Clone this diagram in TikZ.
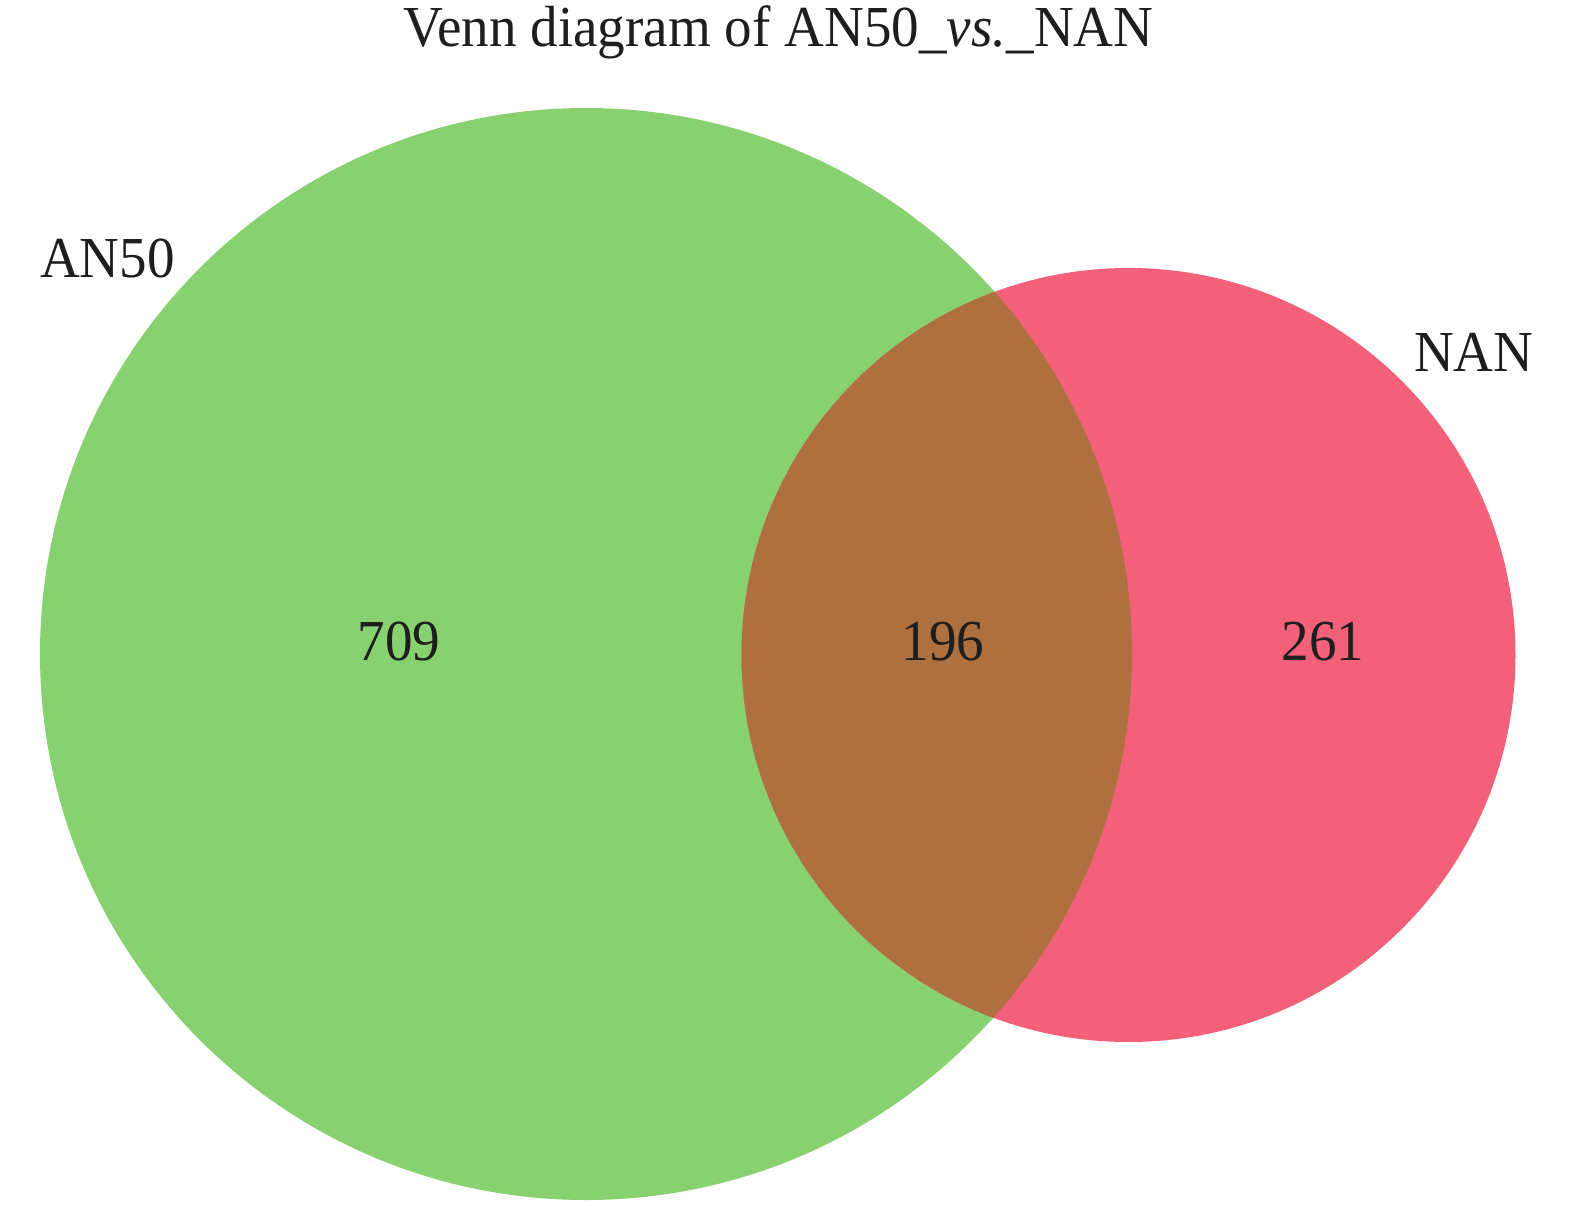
\documentclass[tikz,border=0pt]{standalone}
\usepackage{fontspec}
\setmainfont{Liberation Serif}
\definecolor{vgreen}{HTML}{87D170}
\definecolor{vred}{HTML}{F3607A}
\definecolor{vover}{HTML}{AF7040}
\definecolor{vtext}{HTML}{1E1E1E}
\newcommand{\nrw}[1]{\scalebox{0.95}[1]{#1}}
\begin{document}
\begin{tikzpicture}[x=1pt,y=-1pt,
  lbl/.style={inner sep=0pt,text=vtext,font=\fontsize{58}{60}\selectfont},
]
\useasboundingbox (0,0) rectangle (1575,1206);
\fill[vgreen] (586,654) circle[radius=546];
\fill[vred] (1128.5,655) circle[radius=387];
\begin{scope}
  \clip (586,654) circle[radius=546];
  \fill[vover] (1128.5,655) circle[radius=387];
\end{scope}
\node[lbl,anchor=base] (title) at (778.5,47) {\nrw{Venn diagram of AN50\_\textit{vs.}\_NAN}};
\node[lbl,anchor=base west] (an50) at (40,278) {\nrw{AN50}};
\node[lbl,anchor=base west] (nan) at (1414,372) {\nrw{NAN}};
\node[lbl,anchor=base] (n709) at (399,660) {\nrw{709}};
\node[lbl,anchor=base] (n196) at (943,660) {\nrw{196}};
\node[lbl,anchor=base] (n261) at (1323,660) {\nrw{261}};
\end{tikzpicture}
\end{document}
